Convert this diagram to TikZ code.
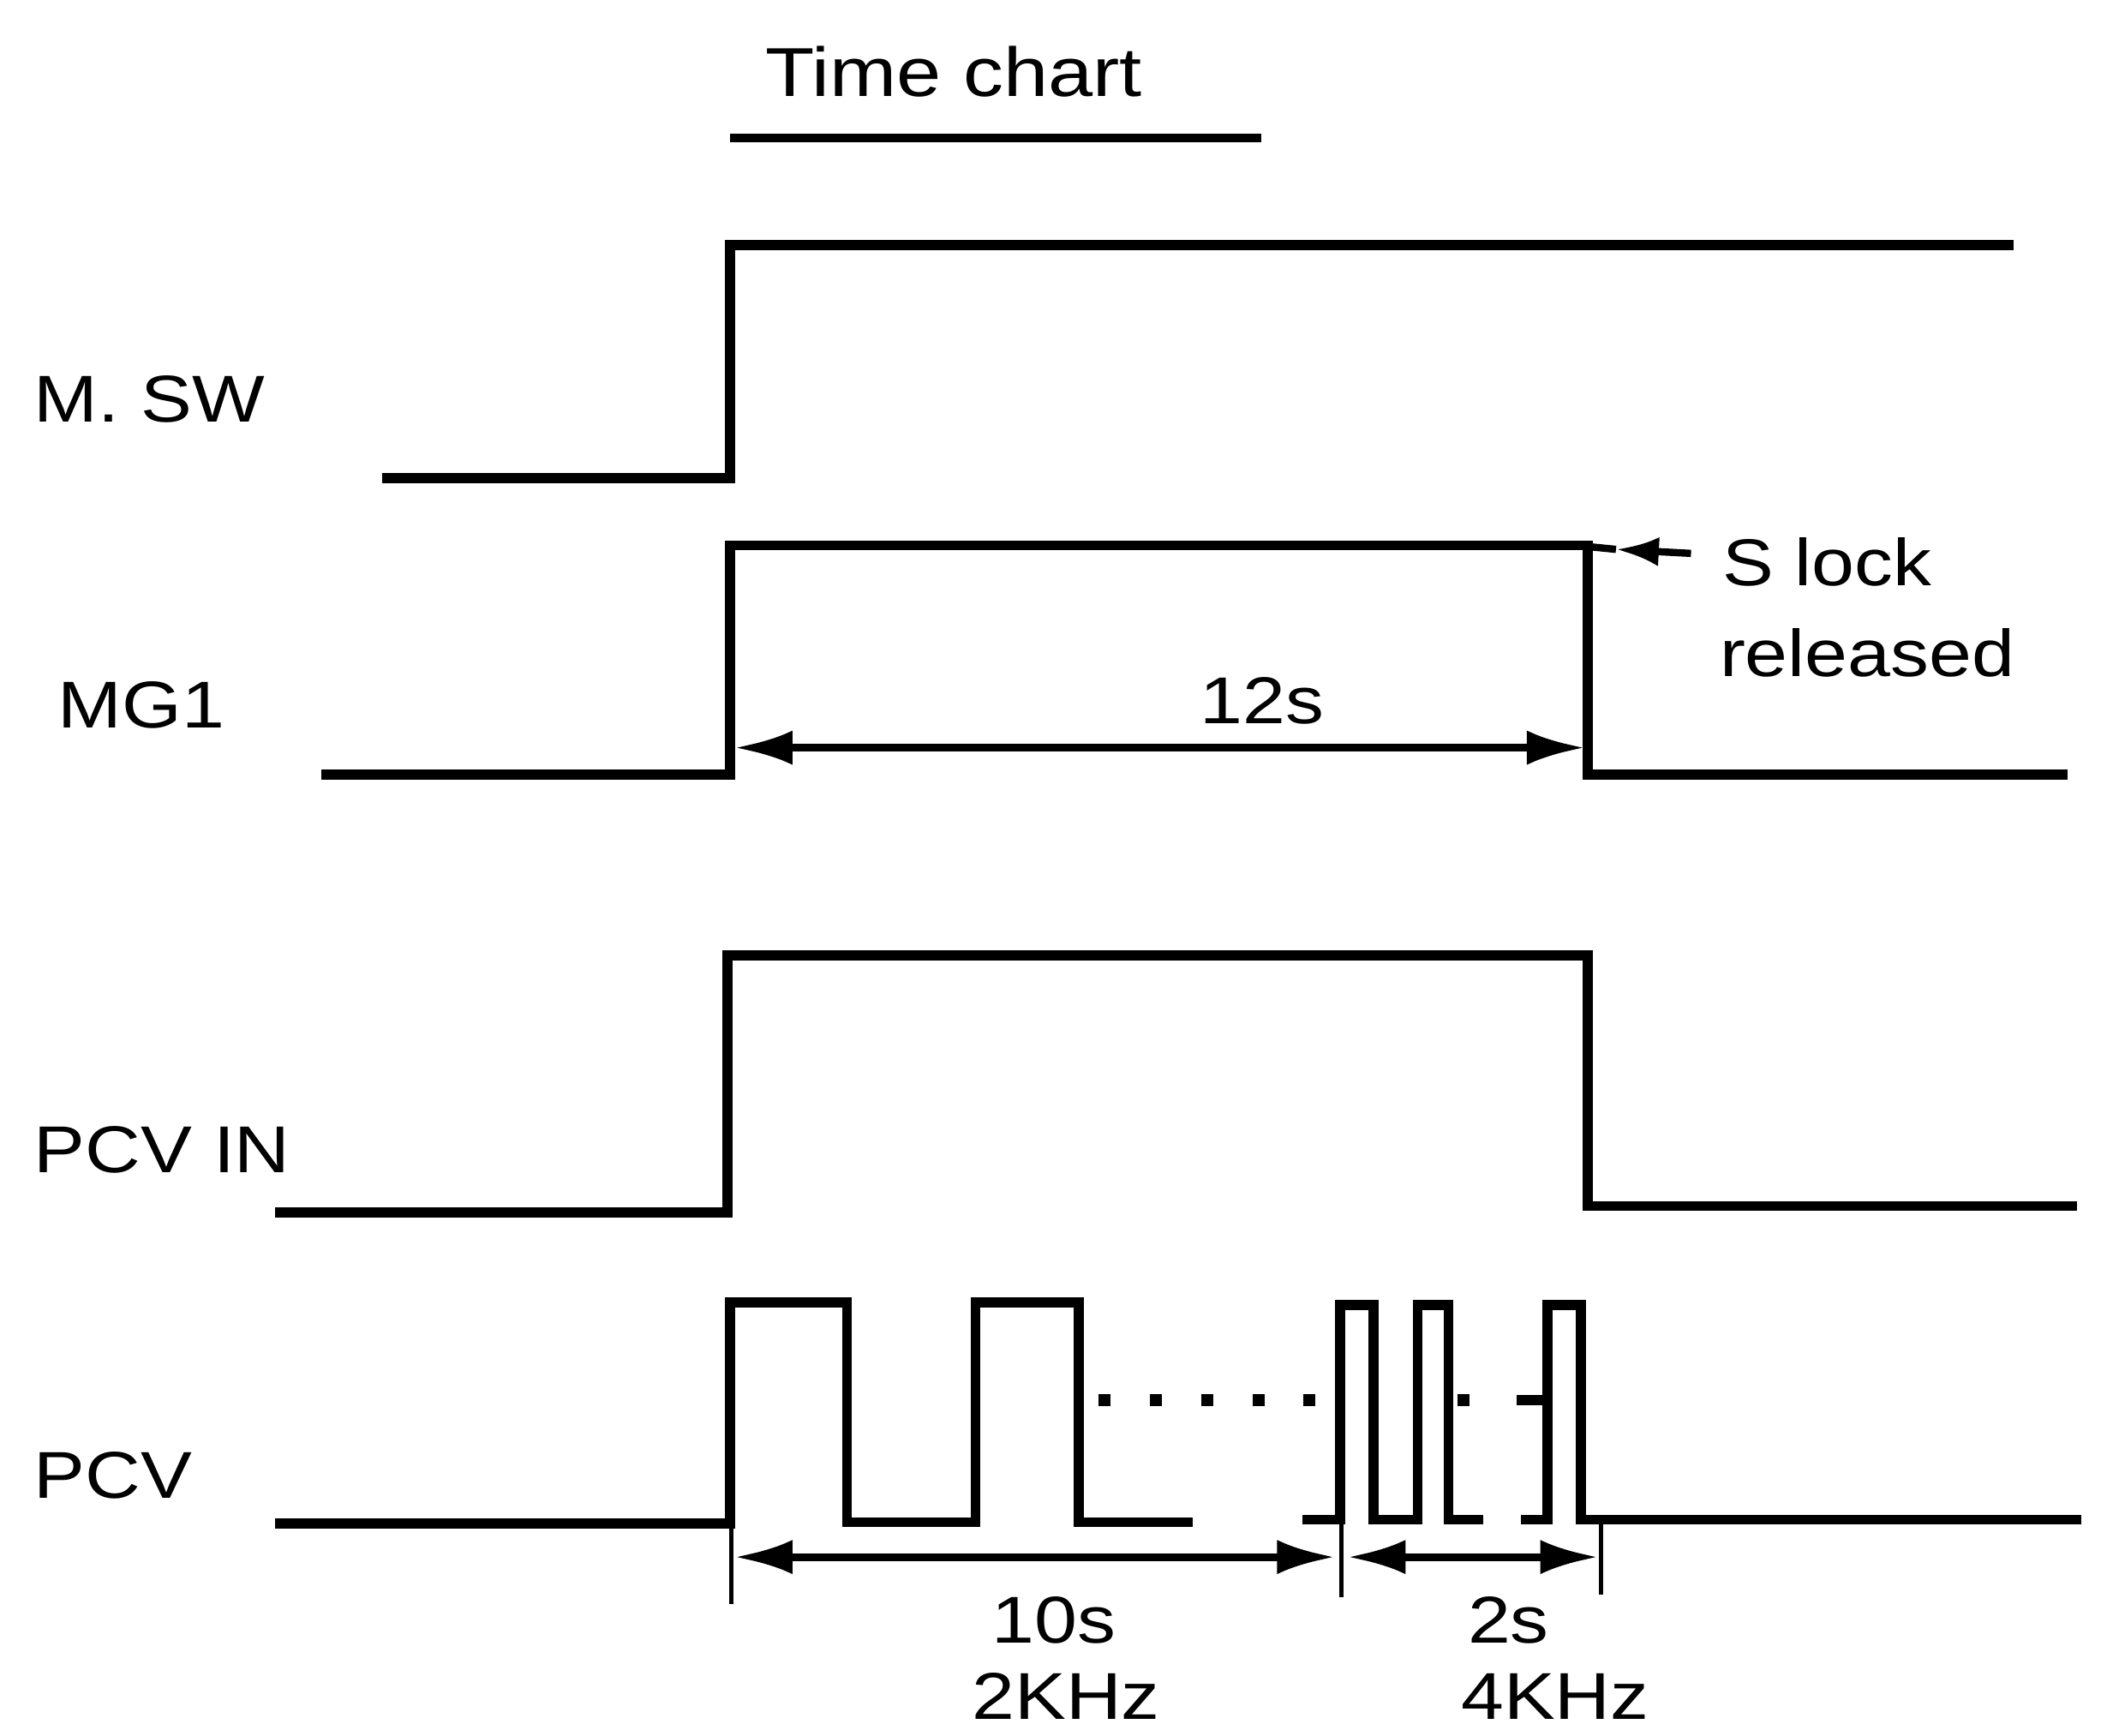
\documentclass[tikz,border=0pt]{standalone}
\usepackage{fontspec}
\setmainfont{Liberation Sans}[FakeStretch=1.16]
\usepackage{tikz}
\usetikzlibrary{arrows.meta}
\tikzset{
  tcsig/.style={line width=3.3pt, line join=miter},
  tcdim/.style={line width=2.6pt, {Latex[length=0.68cm,width=0.4cm]}-{Latex[length=0.68cm,width=0.4cm]}},
  tcext/.style={line width=1.4pt},
  tcdot/.style={line width=4pt, dash pattern=on 4pt off 13pt},
  tclbl/.style={anchor=base west, inner sep=0pt, font=\fontsize{22}{26}\selectfont},
  tcptr/.style={line width=2.4pt, -{Latex[length=0.5cm,width=0.34cm]}},
}

\begin{document}
\begin{tikzpicture}[x=0.015638cm, y=-0.015638cm]
\useasboundingbox (0,0) rectangle (1568,1295);

\node[tclbl, anchor=base, font=\fontsize{23}{27}\selectfont] (ttl) at (712,72) {Time chart};
\draw[line width=2.8pt] (545,103) -- (941,103);

\node[tclbl] (lsw) at (25,315) {M. SW};
\node[tclbl] (lmg) at (43,543) {MG1};
\node[tclbl] (lin) at (25,875) {PCV IN};
\node[tclbl] (lpcv) at (25,1118) {PCV};
\node[tclbl] (lslock) at (1285,437) {S lock};
\node[tclbl] (lrel) at (1283,505) {released};
\node[tclbl] (l12) at (895,540) {12s};
\node[tclbl] (l10) at (740,1226) {10s};
\node[tclbl] (l2k) at (725,1283) {2KHz};
\node[tclbl] (l2s) at (1095,1226) {2s};
\node[tclbl] (l4k) at (1090,1283) {4KHz};

\draw[tcsig] (285,357) -- (545,357) -- (545,183) -- (1503,183);
\draw[tcsig] (240,578) -- (545,578) -- (545,407) -- (1185,407) -- (1185,578) -- (1543,578);
\draw[tcsig] (205,905) -- (543,905) -- (543,713) -- (1185,713) -- (1185,900) -- (1550,900);
\draw[tcsig] (205,1137) -- (545,1137) |- (632,972) |- (728,1136) |- (805,972) |- (890,1136);
\draw[tcsig] (972,1134) -- (1000,1134) |- (1025,974) |- (1058,1134) |- (1081,974) |- (1107,1134);
\draw[tcsig] (1135,1134) -- (1155,1134) |- (1180,974) |- (1553,1134);

\draw[tcdot] (820,1045) -- (985,1045);
\draw[tcdot] (1088,1045) -- (1122,1045);
\draw[tcsig] (1132,1045) -- (1155,1045);

\coordinate (mgr) at (548,558);
\coordinate (mgf) at (1183,558);
\coordinate (pr) at (548,1162);
\coordinate (pm) at (1001,1162);
\coordinate (pf) at (1193,1162);
\coordinate (sl) at (1262,413);
\coordinate (slh) at (1206,410);
\coordinate (slc) at (1186,408);

\draw[tcext] (546,1137) -- (546,1197);
\draw[tcext] (pm) ++(0,-28) -- ++(0,58);
\draw[tcext] (1195,1137) -- (1195,1190);

\draw[tcdim] (mgr) -- (mgf);
\draw[tcdim] (pr) -- ([xshift=-2pt]pm);
\draw[tcdim] ([xshift=2pt]pm) -- (pf);

\draw[tcptr] (sl) -- (slh);
\draw[line width=2.4pt] (slh) -- (slc);
\end{tikzpicture}
\end{document}
